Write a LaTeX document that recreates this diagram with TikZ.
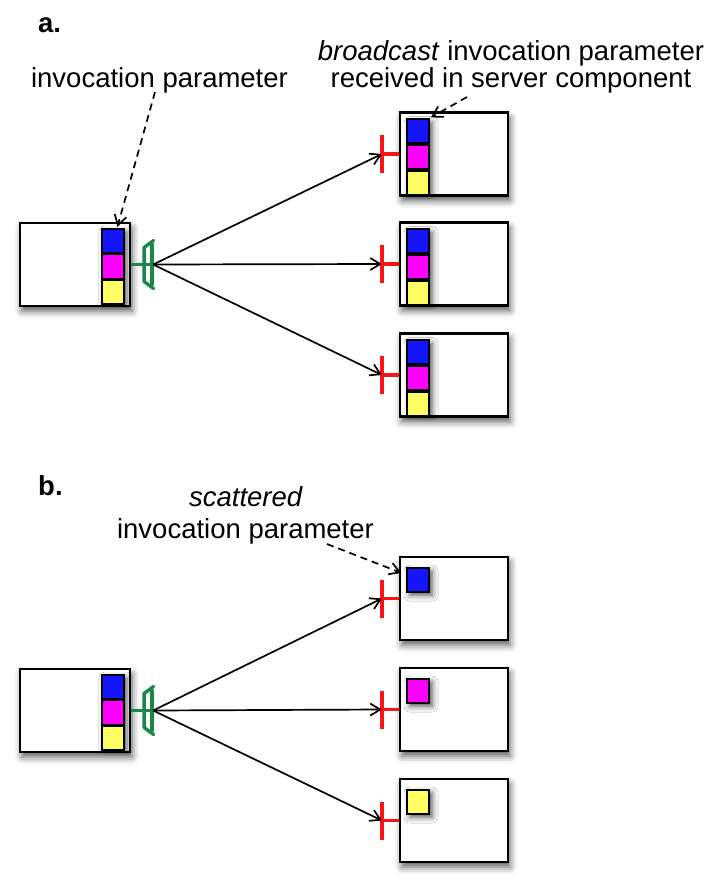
\documentclass[tikz,border=0pt]{standalone}
\usepackage{fontspec}
\setmainfont{Liberation Sans}
\usetikzlibrary{arrows.meta,shadows.blur,calc}
\definecolor{pblue}{RGB}{20,20,255}
\definecolor{pmag}{RGB}{255,0,255}
\definecolor{pyel}{RGB}{255,255,100}
\definecolor{cgreen}{RGB}{25,135,70}
\definecolor{cred}{RGB}{250,20,20}
\tikzset{
  srv/.style={draw=black, line width=2.2pt, fill=white, inner sep=0pt,
    minimum width=108pt, minimum height=83pt,
    blur shadow={shadow xshift=2pt, shadow yshift=-5pt, shadow blur radius=7pt, shadow opacity=65}},
  cli/.style={srv, minimum width=110pt},
  stk/.style={fill=black, inner sep=0pt, minimum width=22pt,
    blur shadow={shadow xshift=3pt, shadow yshift=-4pt, shadow blur radius=6pt, shadow opacity=70}},
  par/.style={draw=black, line width=1.7pt, inner sep=0pt, minimum width=22pt, minimum height=24pt},
  lbl/.style={font=\fontsize{27.5}{31}\selectfont, anchor=base, inner sep=0pt},
  ttl/.style={font=\fontsize{27.5}{31}\selectfont\bfseries, anchor=base west, inner sep=0pt},
  arr/.style={line width=1.7pt, -{Straight Barb[length=10pt,width=12pt,line width=1.7pt]}},
  darr/.style={arr, dash pattern=on 7pt off 5pt},
  redc/.style={draw=cred, line width=3.6pt},
  grnc/.style={draw=cgreen, line width=3.4pt, line join=round, line cap=round},
}
\begin{document}
\begin{tikzpicture}[x=1pt,y=-1pt]
\useasboundingbox (0,0) rectangle (720,891);

% ---------- part a ----------
\node[ttl] (ta) at (38,33) {a.};
\node[lbl] (tinv) at (159.5,88) {invocation parameter};
\node[lbl] (tbc1) at (511,60) {\textit{broadcast} invocation parameter};
\node[lbl] (tbc2) at (511,88) {received in server component};

\node[cli] (L1) at (75,264.5) {};
\node[stk, minimum height=72pt, anchor=north east] (Ls) at ([shift={(-7pt,-6pt)}]L1.north east) {};
\node[par, fill=pblue, anchor=north] (Lb) at (Ls.north) {};
\node[par, fill=pmag, anchor=north] (Lm) at (Lb.south) {};
\node[par, fill=pyel, anchor=north] (Ly) at (Lm.south) {};

\foreach \n/\y in {A1/154, A2/264, A3/375}{
  \node[srv] (\n) at (454,\y) {};
  \node[stk, minimum height=72pt, anchor=north west] (\n s) at ([shift={(8pt,-7pt)}]\n.north west) {};
  \node[par, fill=pblue, anchor=north] (\n b) at (\n s.north) {};
  \node[par, fill=pmag, anchor=north] (\n m) at (\n b.south) {};
  \node[par, fill=pyel, anchor=north] (\n y) at (\n m.south) {};
  \coordinate (\n r) at ([xshift=-17pt]\n.west);
  \draw[redc] (\n.west) -- (\n r);
  \draw[redc] ([yshift=19pt]\n r) -- ([yshift=-19pt]\n r);
}

\coordinate (ga) at ([xshift=21pt]L1.east);
\draw[grnc, line cap=butt] (L1.east) -- (ga);
\draw[grnc] ([yshift=20pt]ga) -- ([yshift=-20pt]ga);
\draw[grnc] ([shift={(1.5pt,24pt)}]ga) -- ([shift={(-8pt,17pt)}]ga) -- ([shift={(-8pt,-17pt)}]ga) -- ([shift={(1.5pt,-24pt)}]ga);

\foreach \n in {A1,A2,A3}{
  \draw[arr] ([xshift=1pt]ga) -- (\n r);
}

\coordinate (da1) at (155,92);
\draw[darr] (da1) -- ([xshift=4.5pt,yshift=1pt]Lb.north);
\coordinate (da2) at (467,97);
\draw[darr] (da2) -- ([xshift=1pt,yshift=1pt]A1b.north east);

% ---------- part b ----------
\node[ttl] (tb) at (38,495) {b.};
\node[lbl] (tsc1) at (246,506) {\textit{scattered}};
\node[lbl] (tsc2) at (245.5,538) {invocation parameter};

\node[cli] (L2) at (75,710.5) {};
\node[stk, minimum height=72pt, anchor=north east] (Ms) at ([shift={(-7pt,-6pt)}]L2.north east) {};
\node[par, fill=pblue, anchor=north] (Mb) at (Ms.north) {};
\node[par, fill=pmag, anchor=north] (Mm) at (Mb.south) {};
\node[par, fill=pyel, anchor=north] (My) at (Mm.south) {};

\foreach \n/\y/\c in {B1/598.5/pblue, B2/709.5/pmag, B3/820.5/pyel}{
  \node[srv] (\n) at (454,\y) {};
  \node[stk, minimum height=24pt, anchor=north west] (\n k) at ([shift={(8pt,-11pt)}]\n.north west) {};
  \node[par, fill=\c, anchor=north] (\n s) at (\n k.north) {};
  \coordinate (\n r) at ([xshift=-17pt]\n.west);
  \draw[redc] (\n.west) -- (\n r);
  \draw[redc] ([yshift=19pt]\n r) -- ([yshift=-19pt]\n r);
}

\coordinate (gb) at ([xshift=21pt]L2.east);
\draw[grnc, line cap=butt] (L2.east) -- (gb);
\draw[grnc] ([yshift=20pt]gb) -- ([yshift=-20pt]gb);
\draw[grnc] ([shift={(1.5pt,24pt)}]gb) -- ([shift={(-8pt,17pt)}]gb) -- ([shift={(-8pt,-17pt)}]gb) -- ([shift={(1.5pt,-24pt)}]gb);

\foreach \n in {B1,B2,B3}{
  \draw[arr] ([xshift=1pt]gb) -- (\n r);
}

\coordinate (db) at (327,544);
\draw[darr] (db) -- ([xshift=-5pt,yshift=-6pt]B1s.north west);
\end{tikzpicture}
\end{document}
